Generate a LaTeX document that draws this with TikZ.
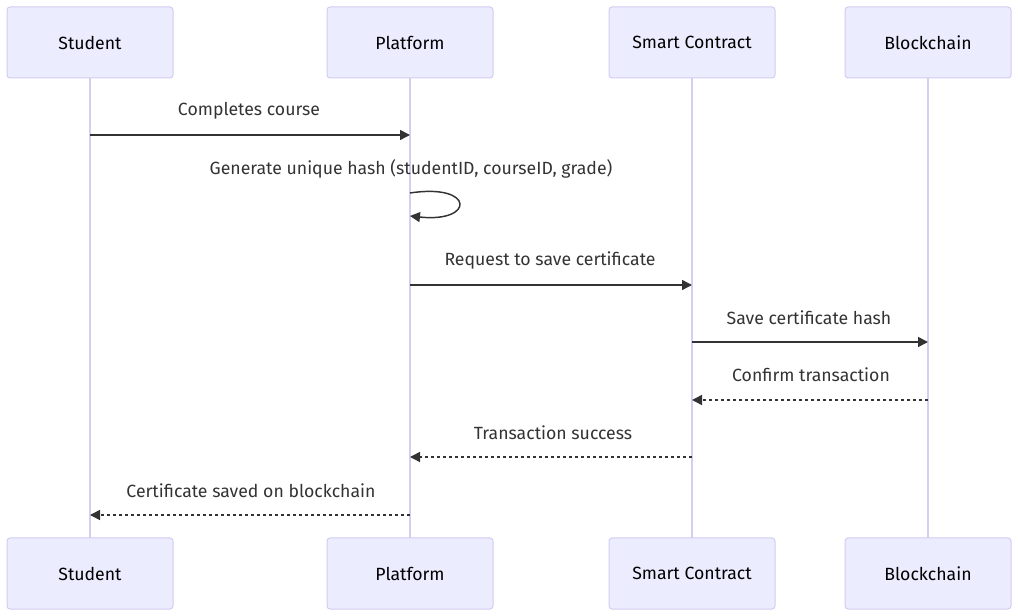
\documentclass[tikz,border=0pt]{standalone}
\usepackage{fontspec}
\setmainfont{Fira Sans}
\usetikzlibrary{arrows.meta}
\definecolor{boxfill}{HTML}{ECECFF}
\definecolor{boxline}{HTML}{D3CCF0}
\definecolor{lifecol}{HTML}{D6CEF2}
\definecolor{msgcol}{HTML}{333333}
\tikzset{
  actor/.style={draw=boxline, fill=boxfill, line width=0.75pt, rounded corners=2.25pt,
    minimum width=124.5pt, minimum height=53.25pt, inner sep=0pt, font=\fontsize{13.25}{15}\selectfont, text=black},
  life/.style={draw=lifecol, line width=1.5pt},
  msg/.style={draw=msgcol, line width=1.1pt, -{Triangle[length=7.5pt,width=7.5pt]}},
  reply/.style={msg, dash pattern=on 2.25pt off 2.25pt},
  lbl/.style={font=\fontsize{13.25}{15}\selectfont, text=msgcol, inner sep=0pt},
}
\begin{document}
\begin{tikzpicture}[x=0.75pt,y=-0.75pt]
\useasboundingbox (0,0) rectangle (1018,616);
% lifelines
\foreach \n/\x in {s/90,p/410,c/692,b/928}{
  \coordinate (\n top) at (\x,78);
  \coordinate (\n bot) at (\x,538);
  \draw[life] (\n top) -- (\n bot);
}
% top actors
\node[actor] (sT) at (90,42.5) {Student};
\node[actor] (pT) at (410,42.5) {Platform};
\node[actor] (cT) at (692,42.5) {Smart Contract};
\node[actor] (bT) at (928,42.5) {Blockchain};
% bottom actors
\node[actor] (sB) at (90,573.5) {Student};
\node[actor] (pB) at (410,573.5) {Platform};
\node[actor] (cB) at (692,573.5) {Smart Contract};
\node[actor] (bB) at (928,573.5) {Blockchain};
% message points
\coordinate (s1) at (90,135); \coordinate (p1) at (410,135);
\coordinate (p2a) at (410,193); \coordinate (p2b) at (410,216);
\coordinate (p3) at (410,285); \coordinate (c3) at (692,285);
\coordinate (c4) at (692,342); \coordinate (b4) at (928,342);
\coordinate (b5) at (928,400); \coordinate (c5) at (692,400);
\coordinate (c6) at (692,457); \coordinate (p6) at (410,457);
\coordinate (p7) at (410,515); \coordinate (s7) at (90,515);
% messages
\draw[msg] (s1) -- (p1);
\node[lbl] (l1) at (249,111) {Completes course};
\draw[msg] (p2a) .. controls (475,183) and (475,223) .. (p2b);
\node[lbl] (l2) at (411,169) {Generate unique hash (studentID, courseID, grade)};
\draw[msg] (p3) -- (c3);
\node[lbl] (l3) at (550,260) {Request to save certificate};
\draw[msg] (c4) -- (b4);
\node[lbl] (l4) at (809,318) {Save certificate hash};
\draw[reply] (b5) -- (c5);
\node[lbl] (l5) at (811,375) {Confirm transaction};
\draw[reply] (c6) -- (p6);
\node[lbl] (l6) at (553,433) {Transaction success};
\draw[reply] (p7) -- (s7);
\node[lbl] (l7) at (251,491) {Certificate saved on blockchain};
\end{tikzpicture}
\end{document}
